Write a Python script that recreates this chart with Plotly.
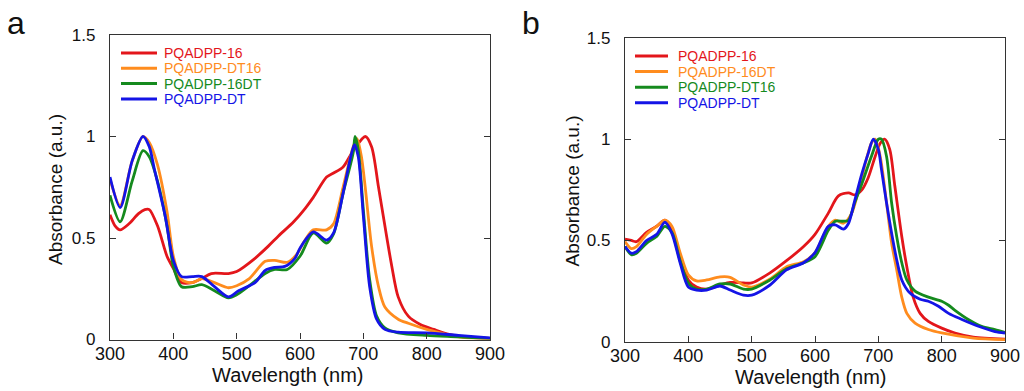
import plotly.graph_objects as go

# ---------------- Panel a ----------------
a_16_wl = [300, 308, 316, 330, 345, 355, 362, 375, 390, 400, 413, 430, 445, 460, 487, 500, 529, 550, 566, 590, 608,
           621, 642, 653, 668, 684, 703, 713, 724, 734, 745, 755, 771, 790, 811, 832, 858, 900]
a_16_abs = [0.615, 0.56, 0.54, 0.57, 0.62, 0.64, 0.64, 0.56, 0.41, 0.35, 0.28, 0.28, 0.30, 0.325, 0.325, 0.335, 0.40, 0.46, 0.51, 0.58, 0.645,
            0.70, 0.80, 0.82, 0.85, 0.93, 1.0, 0.95, 0.75, 0.56, 0.36, 0.21, 0.115, 0.074, 0.05, 0.028, 0.013, 0.005]

a_DT16_wl = [300, 316, 335, 352, 362, 375, 390, 400, 413, 430, 445, 465, 487, 500, 520, 545, 560, 580, 595, 608,
             621, 642, 653, 668, 684, 690, 697, 703, 713, 724, 734, 755, 771, 800, 821, 850, 900]
a_DT16_abs = [0.79, 0.66, 0.88, 1.0, 0.97, 0.86, 0.63, 0.41, 0.295, 0.28, 0.30, 0.28, 0.255, 0.265, 0.30, 0.385, 0.39, 0.38, 0.42, 0.49,
              0.54, 0.54, 0.57, 0.75, 0.95, 0.99, 0.90, 0.75, 0.46, 0.26, 0.16, 0.10, 0.08, 0.05, 0.033, 0.013, 0.003]

a_16DT_wl = [300, 316, 335, 352, 362, 375, 390, 400, 413, 430, 445, 465, 487, 500, 520, 545, 560, 580, 600,
             621, 642, 653, 668, 684, 687, 692, 700, 710, 721, 734, 755, 800, 850, 900]
a_16DT_abs = [0.71, 0.58, 0.78, 0.93, 0.90, 0.78, 0.56, 0.36, 0.26, 0.26, 0.27, 0.24, 0.205, 0.22, 0.265, 0.325, 0.345, 0.345, 0.41,
              0.525, 0.475, 0.52, 0.72, 0.92, 1.0, 0.935, 0.64, 0.295, 0.115, 0.057, 0.033, 0.02, 0.013, 0.005]

a_DT_wl = [300, 316, 335, 352, 362, 370, 387, 400, 413, 430, 445, 465, 487, 503, 529, 545, 560, 576, 592, 600,
           621, 642, 653, 668, 680, 686, 692, 700, 710, 721, 734, 755, 800, 850, 900]
a_DT_abs = [0.80, 0.65, 0.88, 1.0, 0.95, 0.84, 0.61, 0.39, 0.31, 0.31, 0.31, 0.26, 0.21, 0.24, 0.28, 0.34, 0.355, 0.36, 0.40, 0.45,
            0.53, 0.49, 0.525, 0.72, 0.90, 0.96, 0.90, 0.61, 0.26, 0.10, 0.05, 0.036, 0.033, 0.02, 0.008]

# ---------------- Panel b ----------------
b_16_wl = [300, 310, 318, 334, 350, 363, 374, 387, 400, 413, 429, 450, 466, 487, 500, 529, 555, 582, 600,
           621, 637, 653, 663, 674, 684, 695, 703, 710, 718, 726, 737, 745, 755, 766, 779, 800, 821, 850, 900]
b_16_abs = [0.507, 0.50, 0.494, 0.54, 0.57, 0.60, 0.55, 0.42, 0.305, 0.27, 0.26, 0.28, 0.293, 0.29, 0.29, 0.34, 0.40, 0.47, 0.53,
            0.635, 0.72, 0.735, 0.725, 0.75, 0.81, 0.915, 0.98, 1.0, 0.95, 0.77, 0.52, 0.37, 0.22, 0.14, 0.10, 0.067, 0.043, 0.023, 0.013]

b_16DT_wl = [300, 310, 318, 334, 350, 363, 374, 387, 400, 413, 429, 450, 466, 487, 500, 529, 555, 582, 600,
             621, 632, 645, 658, 674, 689, 695, 703, 713, 721, 729, 737, 745, 758, 779, 800, 850, 900]
b_16DT_abs = [0.495, 0.46, 0.47, 0.53, 0.57, 0.60, 0.57, 0.44, 0.33, 0.30, 0.305, 0.32, 0.318, 0.28, 0.27, 0.31, 0.37, 0.395, 0.44,
              0.57, 0.60, 0.585, 0.635, 0.815, 0.98, 1.0, 0.915, 0.685, 0.487, 0.355, 0.22, 0.14, 0.092, 0.06, 0.043, 0.018, 0.01]

b_DT16_wl = [300, 310, 318, 334, 350, 363, 374, 387, 400, 413, 429, 450, 466, 487, 500, 529, 555, 582, 600,
             621, 632, 645, 653, 663, 674, 689, 700, 705, 713, 721, 729, 737, 745, 758, 779, 800, 811, 821, 842, 863, 884, 900]
b_DT16_abs = [0.47, 0.43, 0.437, 0.486, 0.52, 0.57, 0.54, 0.40, 0.29, 0.26, 0.26, 0.285, 0.285, 0.26, 0.26, 0.305, 0.36, 0.39, 0.42,
              0.55, 0.595, 0.595, 0.60, 0.69, 0.78, 0.915, 1.0, 1.0, 0.915, 0.685, 0.52, 0.39, 0.305, 0.25, 0.22, 0.20, 0.18, 0.155, 0.11, 0.076, 0.06, 0.046]

b_DT_wl = [300, 310, 318, 334, 350, 363, 374, 387, 400, 413, 429, 450, 466, 487, 500, 529, 555, 582, 600,
           621, 632, 645, 653, 663, 674, 684, 692, 700, 705, 713, 721, 729, 737, 750, 766, 779, 795, 811, 832, 858, 884, 900]
b_DT_abs = [0.47, 0.437, 0.445, 0.50, 0.53, 0.59, 0.535, 0.39, 0.27, 0.255, 0.255, 0.275, 0.255, 0.23, 0.23, 0.28, 0.355, 0.39, 0.44,
            0.57, 0.577, 0.556, 0.585, 0.70, 0.83, 0.93, 1.0, 0.95, 0.85, 0.685, 0.536, 0.405, 0.305, 0.24, 0.21, 0.20, 0.175, 0.14, 0.11, 0.076, 0.05, 0.043]

x_ticks = [300, 400, 500, 600, 700, 800, 900]
y_ticks = [0, 0.5, 1, 1.5]
y_ticktext = ["0", "0.5", "1", "1.5"]

a_names = ["PQADPP-16", "PQADPP-DT16", "PQADPP-16DT", "PQADPP-DT"]
b_names = ["PQADPP-16", "PQADPP-16DT", "PQADPP-DT16", "PQADPP-DT"]

RED = "#e3161b"
ORANGE = "#ff8c1e"
GREEN = "#158a1e"
BLUE = "#1414e6"
COLORS = [RED, ORANGE, GREEN, BLUE]
FONT = "Arial, Liberation Sans, sans-serif"

# The page body margin is removed (post_script below), so the figure fills the window.
W, H = 1024, 391

def px(x):   # window pixel -> paper x
    return x / W

def py(y):   # window pixel -> paper y
    return 1 - y / H

fig = go.Figure()

a_series = [(a_16_wl, a_16_abs), (a_DT16_wl, a_DT16_abs), (a_16DT_wl, a_16DT_abs), (a_DT_wl, a_DT_abs)]
b_series = [(b_16_wl, b_16_abs), (b_16DT_wl, b_16DT_abs), (b_DT16_wl, b_DT16_abs), (b_DT_wl, b_DT_abs)]

for (wl, ab), name, c in zip(a_series, a_names, COLORS):
    fig.add_trace(go.Scatter(x=wl, y=ab, mode="lines", name=name, showlegend=False,
                             line=dict(color=c, width=2.8, shape="spline", smoothing=0.8),
                             xaxis="x", yaxis="y"))
for (wl, ab), name, c in zip(b_series, b_names, COLORS):
    fig.add_trace(go.Scatter(x=wl, y=ab, mode="lines", name=name, showlegend=False,
                             line=dict(color=c, width=2.8, shape="spline", smoothing=0.8),
                             xaxis="x2", yaxis="y2"))

def xaxis(domain, anchor):
    return dict(domain=domain, anchor=anchor, range=[300, 900], tickvals=x_ticks, automargin=False,
                ticks="inside", ticklen=6, tickcolor="#333", showline=True, linecolor="#333",
                linewidth=1.3, mirror=True, showgrid=False, zeroline=False,
                ticklabelstandoff=-2,
                tickfont=dict(family=FONT, size=18, color="#111"))

def yaxis(domain, anchor):
    return dict(domain=domain, anchor=anchor, range=[0, 1.5], tickvals=y_ticks, ticktext=y_ticktext,
                automargin=False,
                ticks="inside", ticklen=6, tickcolor="#333", showline=True, linecolor="#333",
                linewidth=1.3, mirror="ticks", showgrid=False, zeroline=False,
                ticklabelstandoff=10,
                tickfont=dict(family=FONT, size=17, color="#111"))

shapes = []
annotations = []

# manual legends (tight row spacing as in the original)
def legend(names, x0, y0, line_len, text_gap, row_h):
    for i, (name, c) in enumerate(zip(names, COLORS)):
        yc = y0 + i * row_h
        shapes.append(dict(type="line", xref="paper", yref="paper",
                           x0=px(x0), x1=px(x0 + line_len), y0=py(yc), y1=py(yc),
                           line=dict(color=c, width=3)))
        annotations.append(dict(text=name, xref="paper", yref="paper", showarrow=False,
                                x=px(x0 + line_len + text_gap), y=py(yc),
                                xanchor="left", yanchor="middle",
                                font=dict(family=FONT, size=14, color=c)))

legend(a_names, 121, 53, 36, 5, 15.3)
legend(b_names, 635, 56, 33, 8, 15.6)

def label(text, x, y, size, angle=0):
    annotations.append(dict(text=text, x=px(x), y=py(y), xref="paper", yref="paper", showarrow=False,
                            xanchor="center", yanchor="middle", textangle=angle,
                            font=dict(family=FONT, size=size, color="#111")))

label("a", 16, 23, 32)
label("b", 531, 23, 32)
label("Wavelength (nm)", 288, 375, 20)
label("Wavelength (nm)", 811, 377, 20)
label("Absorbance (a.u.)", 56, 190, 19, -90)
label("Absorbance (a.u.)", 572, 191.5, 19, -90)

fig.update_layout(
    width=W, height=H,
    margin=dict(l=0, r=0, t=0, b=0, autoexpand=False),
    paper_bgcolor="white", plot_bgcolor="white",
    font=dict(family=FONT),
    xaxis=xaxis([px(110), px(490)], "y"),
    yaxis=yaxis([py(339.5), py(35)], "x"),
    xaxis2=xaxis([px(625), px(1005)], "y2"),
    yaxis2=yaxis([py(341.7), py(38)], "x2"),
    showlegend=False,
    shapes=shapes,
    annotations=annotations,
)

fig.write_html("out.html", config={"displayModeBar": False},
               post_script="document.body.style.margin='0';")
